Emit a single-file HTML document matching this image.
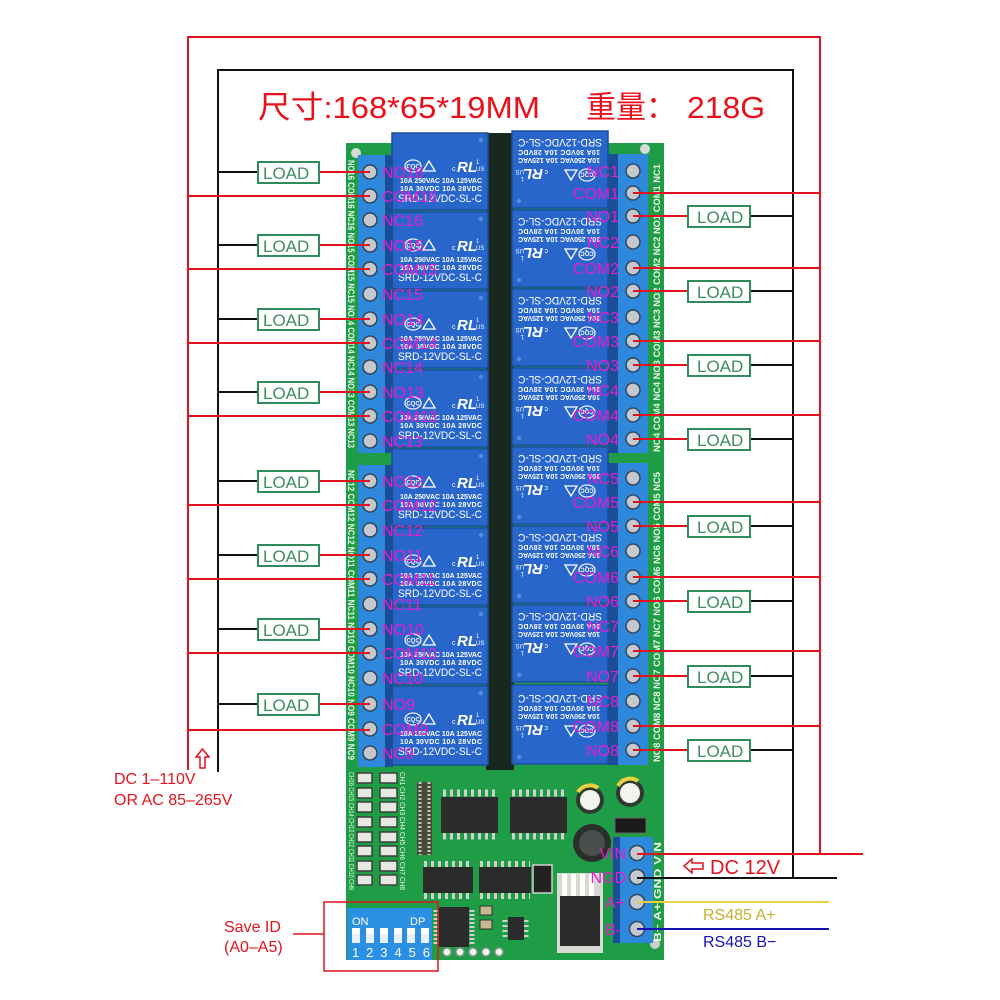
<!DOCTYPE html>
<html><head><meta charset="utf-8">
<style>
html,body{margin:0;padding:0;background:#fff;}
svg{display:block;}
text{font-family:"Liberation Sans","Noto Sans CJK SC",sans-serif;}
.lbl{font-size:16px;fill:#e61ccf;}
.lr{font-size:16px;fill:#e61ccf;text-anchor:end;}
.load{font-size:17px;fill:#3f8c64;}
.rw{fill:#ffffff;}
</style></head><body>
<svg width="1000" height="1000" viewBox="0 0 1000 1000" xmlns="http://www.w3.org/2000/svg">
<rect width="1000" height="1000" fill="#fff"/>

<!-- BOARD -->
<rect x="346" y="143" width="318" height="817" fill="#1f9c46"/>
<rect x="486" y="133" width="28" height="637" fill="#17291f"/>
<circle cx="356" cy="153" r="5" fill="#d5dbd5"/>
<circle cx="645" cy="149" r="5" fill="#d5dbd5"/>
<circle cx="655" cy="944" r="5" fill="#c9d0c9"/>

<!-- vertical pcb texts -->
<text transform="translate(348,160) rotate(90)" font-size="9" font-weight="bold" fill="#eaf6ea" textLength="288" lengthAdjust="spacingAndGlyphs">NO16 COM16 NC16 NO15 COM15 NC15 NO14 COM14 NC14 NO13 COM13 NC13</text>
<text transform="translate(348,470) rotate(90)" font-size="9" font-weight="bold" fill="#eaf6ea" textLength="290" lengthAdjust="spacingAndGlyphs">NO12 COM12 NC12 NO11 COM11 NC11 NO10 COM10 NC10 NO9 COM9 NC9</text>
<text transform="translate(660,452) rotate(-90)" font-size="9" font-weight="bold" fill="#eaf6ea" textLength="288" lengthAdjust="spacingAndGlyphs">NO4 COM4 NC4 NO3 COM3 NC3 NO2 COM2 NC2 NO1 COM1 NC1</text>
<text transform="translate(660,762) rotate(-90)" font-size="9" font-weight="bold" fill="#eaf6ea" textLength="290" lengthAdjust="spacingAndGlyphs">NO8 COM8 NC8 NO7 COM7 NC7 NO6 COM6 NC6 NO5 COM5 NC5</text>
<text transform="translate(661,942) rotate(-90)" font-size="10" font-weight="bold" fill="#eaf6ea" textLength="100" lengthAdjust="spacingAndGlyphs">B−  A+  GND  VIN</text>

<!-- LEFT RELAYS -->
<g transform="translate(392,133)"><rect width="96" height="77" fill="#2866cc" stroke="#1b4f9e" stroke-width="1.5"/><circle cx="89" cy="7" r="2.2" fill="#5a8ad8"/><ellipse cx="21" cy="33" rx="8" ry="6" fill="none" stroke="#eef" stroke-width="1.3"/><text x="21" y="35.5" font-size="6" class="rw" text-anchor="middle" font-weight="bold">CQC</text><path d="M31 38 L37 28 L43 38 Z" fill="none" stroke="#fff" stroke-width="1.3"/><text x="60" y="38" font-size="7" class="rw">c</text><text x="65" y="39" font-size="15" font-weight="bold" font-style="italic" class="rw">RL</text><text x="84" y="31" font-size="6" class="rw">1</text><text x="84" y="38" font-size="6" class="rw">US</text><text x="8" y="50" font-size="7" font-weight="bold" class="rw" textLength="82">10A 250VAC  10A 125VAC</text><text x="8" y="58" font-size="7" font-weight="bold" class="rw" textLength="82">10A  30VDC  10A  28VDC</text><text x="6" y="69" font-size="11" class="rw" textLength="84" lengthAdjust="spacingAndGlyphs">SRD-12VDC-SL-C</text></g>
<g transform="translate(392,212)"><rect width="96" height="77" fill="#2866cc" stroke="#1b4f9e" stroke-width="1.5"/><circle cx="89" cy="7" r="2.2" fill="#5a8ad8"/><ellipse cx="21" cy="33" rx="8" ry="6" fill="none" stroke="#eef" stroke-width="1.3"/><text x="21" y="35.5" font-size="6" class="rw" text-anchor="middle" font-weight="bold">CQC</text><path d="M31 38 L37 28 L43 38 Z" fill="none" stroke="#fff" stroke-width="1.3"/><text x="60" y="38" font-size="7" class="rw">c</text><text x="65" y="39" font-size="15" font-weight="bold" font-style="italic" class="rw">RL</text><text x="84" y="31" font-size="6" class="rw">1</text><text x="84" y="38" font-size="6" class="rw">US</text><text x="8" y="50" font-size="7" font-weight="bold" class="rw" textLength="82">10A 250VAC  10A 125VAC</text><text x="8" y="58" font-size="7" font-weight="bold" class="rw" textLength="82">10A  30VDC  10A  28VDC</text><text x="6" y="69" font-size="11" class="rw" textLength="84" lengthAdjust="spacingAndGlyphs">SRD-12VDC-SL-C</text></g>
<g transform="translate(392,291)"><rect width="96" height="77" fill="#2866cc" stroke="#1b4f9e" stroke-width="1.5"/><circle cx="89" cy="7" r="2.2" fill="#5a8ad8"/><ellipse cx="21" cy="33" rx="8" ry="6" fill="none" stroke="#eef" stroke-width="1.3"/><text x="21" y="35.5" font-size="6" class="rw" text-anchor="middle" font-weight="bold">CQC</text><path d="M31 38 L37 28 L43 38 Z" fill="none" stroke="#fff" stroke-width="1.3"/><text x="60" y="38" font-size="7" class="rw">c</text><text x="65" y="39" font-size="15" font-weight="bold" font-style="italic" class="rw">RL</text><text x="84" y="31" font-size="6" class="rw">1</text><text x="84" y="38" font-size="6" class="rw">US</text><text x="8" y="50" font-size="7" font-weight="bold" class="rw" textLength="82">10A 250VAC  10A 125VAC</text><text x="8" y="58" font-size="7" font-weight="bold" class="rw" textLength="82">10A  30VDC  10A  28VDC</text><text x="6" y="69" font-size="11" class="rw" textLength="84" lengthAdjust="spacingAndGlyphs">SRD-12VDC-SL-C</text></g>
<g transform="translate(392,370)"><rect width="96" height="77" fill="#2866cc" stroke="#1b4f9e" stroke-width="1.5"/><circle cx="89" cy="7" r="2.2" fill="#5a8ad8"/><ellipse cx="21" cy="33" rx="8" ry="6" fill="none" stroke="#eef" stroke-width="1.3"/><text x="21" y="35.5" font-size="6" class="rw" text-anchor="middle" font-weight="bold">CQC</text><path d="M31 38 L37 28 L43 38 Z" fill="none" stroke="#fff" stroke-width="1.3"/><text x="60" y="38" font-size="7" class="rw">c</text><text x="65" y="39" font-size="15" font-weight="bold" font-style="italic" class="rw">RL</text><text x="84" y="31" font-size="6" class="rw">1</text><text x="84" y="38" font-size="6" class="rw">US</text><text x="8" y="50" font-size="7" font-weight="bold" class="rw" textLength="82">10A 250VAC  10A 125VAC</text><text x="8" y="58" font-size="7" font-weight="bold" class="rw" textLength="82">10A  30VDC  10A  28VDC</text><text x="6" y="69" font-size="11" class="rw" textLength="84" lengthAdjust="spacingAndGlyphs">SRD-12VDC-SL-C</text></g>
<g transform="translate(392,449)"><rect width="96" height="77" fill="#2866cc" stroke="#1b4f9e" stroke-width="1.5"/><circle cx="89" cy="7" r="2.2" fill="#5a8ad8"/><ellipse cx="21" cy="33" rx="8" ry="6" fill="none" stroke="#eef" stroke-width="1.3"/><text x="21" y="35.5" font-size="6" class="rw" text-anchor="middle" font-weight="bold">CQC</text><path d="M31 38 L37 28 L43 38 Z" fill="none" stroke="#fff" stroke-width="1.3"/><text x="60" y="38" font-size="7" class="rw">c</text><text x="65" y="39" font-size="15" font-weight="bold" font-style="italic" class="rw">RL</text><text x="84" y="31" font-size="6" class="rw">1</text><text x="84" y="38" font-size="6" class="rw">US</text><text x="8" y="50" font-size="7" font-weight="bold" class="rw" textLength="82">10A 250VAC  10A 125VAC</text><text x="8" y="58" font-size="7" font-weight="bold" class="rw" textLength="82">10A  30VDC  10A  28VDC</text><text x="6" y="69" font-size="11" class="rw" textLength="84" lengthAdjust="spacingAndGlyphs">SRD-12VDC-SL-C</text></g>
<g transform="translate(392,528)"><rect width="96" height="77" fill="#2866cc" stroke="#1b4f9e" stroke-width="1.5"/><circle cx="89" cy="7" r="2.2" fill="#5a8ad8"/><ellipse cx="21" cy="33" rx="8" ry="6" fill="none" stroke="#eef" stroke-width="1.3"/><text x="21" y="35.5" font-size="6" class="rw" text-anchor="middle" font-weight="bold">CQC</text><path d="M31 38 L37 28 L43 38 Z" fill="none" stroke="#fff" stroke-width="1.3"/><text x="60" y="38" font-size="7" class="rw">c</text><text x="65" y="39" font-size="15" font-weight="bold" font-style="italic" class="rw">RL</text><text x="84" y="31" font-size="6" class="rw">1</text><text x="84" y="38" font-size="6" class="rw">US</text><text x="8" y="50" font-size="7" font-weight="bold" class="rw" textLength="82">10A 250VAC  10A 125VAC</text><text x="8" y="58" font-size="7" font-weight="bold" class="rw" textLength="82">10A  30VDC  10A  28VDC</text><text x="6" y="69" font-size="11" class="rw" textLength="84" lengthAdjust="spacingAndGlyphs">SRD-12VDC-SL-C</text></g>
<g transform="translate(392,607)"><rect width="96" height="77" fill="#2866cc" stroke="#1b4f9e" stroke-width="1.5"/><circle cx="89" cy="7" r="2.2" fill="#5a8ad8"/><ellipse cx="21" cy="33" rx="8" ry="6" fill="none" stroke="#eef" stroke-width="1.3"/><text x="21" y="35.5" font-size="6" class="rw" text-anchor="middle" font-weight="bold">CQC</text><path d="M31 38 L37 28 L43 38 Z" fill="none" stroke="#fff" stroke-width="1.3"/><text x="60" y="38" font-size="7" class="rw">c</text><text x="65" y="39" font-size="15" font-weight="bold" font-style="italic" class="rw">RL</text><text x="84" y="31" font-size="6" class="rw">1</text><text x="84" y="38" font-size="6" class="rw">US</text><text x="8" y="50" font-size="7" font-weight="bold" class="rw" textLength="82">10A 250VAC  10A 125VAC</text><text x="8" y="58" font-size="7" font-weight="bold" class="rw" textLength="82">10A  30VDC  10A  28VDC</text><text x="6" y="69" font-size="11" class="rw" textLength="84" lengthAdjust="spacingAndGlyphs">SRD-12VDC-SL-C</text></g>
<g transform="translate(392,686)"><rect width="96" height="79" fill="#2866cc" stroke="#1b4f9e" stroke-width="1.5"/><circle cx="89" cy="7" r="2.2" fill="#5a8ad8"/><ellipse cx="21" cy="33" rx="8" ry="6" fill="none" stroke="#eef" stroke-width="1.3"/><text x="21" y="35.5" font-size="6" class="rw" text-anchor="middle" font-weight="bold">CQC</text><path d="M31 38 L37 28 L43 38 Z" fill="none" stroke="#fff" stroke-width="1.3"/><text x="60" y="38" font-size="7" class="rw">c</text><text x="65" y="39" font-size="15" font-weight="bold" font-style="italic" class="rw">RL</text><text x="84" y="31" font-size="6" class="rw">1</text><text x="84" y="38" font-size="6" class="rw">US</text><text x="8" y="50" font-size="7" font-weight="bold" class="rw" textLength="82">10A 250VAC  10A 125VAC</text><text x="8" y="58" font-size="7" font-weight="bold" class="rw" textLength="82">10A  30VDC  10A  28VDC</text><text x="6" y="69" font-size="11" class="rw" textLength="84" lengthAdjust="spacingAndGlyphs">SRD-12VDC-SL-C</text></g>

<!-- RIGHT RELAYS (rotated 180) -->
<g transform="translate(608,208) rotate(180)"><rect width="96" height="77" fill="#2866cc" stroke="#1b4f9e" stroke-width="1.5"/><circle cx="89" cy="7" r="2.2" fill="#5a8ad8"/><ellipse cx="21" cy="33" rx="8" ry="6" fill="none" stroke="#eef" stroke-width="1.3"/><text x="21" y="35.5" font-size="6" class="rw" text-anchor="middle" font-weight="bold">CQC</text><path d="M31 38 L37 28 L43 38 Z" fill="none" stroke="#fff" stroke-width="1.3"/><text x="60" y="38" font-size="7" class="rw">c</text><text x="65" y="39" font-size="15" font-weight="bold" font-style="italic" class="rw">RL</text><text x="84" y="31" font-size="6" class="rw">1</text><text x="84" y="38" font-size="6" class="rw">US</text><text x="8" y="50" font-size="7" font-weight="bold" class="rw" textLength="82">10A 250VAC  10A 125VAC</text><text x="8" y="58" font-size="7" font-weight="bold" class="rw" textLength="82">10A  30VDC  10A  28VDC</text><text x="6" y="69" font-size="11" class="rw" textLength="84" lengthAdjust="spacingAndGlyphs">SRD-12VDC-SL-C</text></g>
<g transform="translate(608,287) rotate(180)"><rect width="96" height="77" fill="#2866cc" stroke="#1b4f9e" stroke-width="1.5"/><circle cx="89" cy="7" r="2.2" fill="#5a8ad8"/><ellipse cx="21" cy="33" rx="8" ry="6" fill="none" stroke="#eef" stroke-width="1.3"/><text x="21" y="35.5" font-size="6" class="rw" text-anchor="middle" font-weight="bold">CQC</text><path d="M31 38 L37 28 L43 38 Z" fill="none" stroke="#fff" stroke-width="1.3"/><text x="60" y="38" font-size="7" class="rw">c</text><text x="65" y="39" font-size="15" font-weight="bold" font-style="italic" class="rw">RL</text><text x="84" y="31" font-size="6" class="rw">1</text><text x="84" y="38" font-size="6" class="rw">US</text><text x="8" y="50" font-size="7" font-weight="bold" class="rw" textLength="82">10A 250VAC  10A 125VAC</text><text x="8" y="58" font-size="7" font-weight="bold" class="rw" textLength="82">10A  30VDC  10A  28VDC</text><text x="6" y="69" font-size="11" class="rw" textLength="84" lengthAdjust="spacingAndGlyphs">SRD-12VDC-SL-C</text></g>
<g transform="translate(608,366) rotate(180)"><rect width="96" height="77" fill="#2866cc" stroke="#1b4f9e" stroke-width="1.5"/><circle cx="89" cy="7" r="2.2" fill="#5a8ad8"/><ellipse cx="21" cy="33" rx="8" ry="6" fill="none" stroke="#eef" stroke-width="1.3"/><text x="21" y="35.5" font-size="6" class="rw" text-anchor="middle" font-weight="bold">CQC</text><path d="M31 38 L37 28 L43 38 Z" fill="none" stroke="#fff" stroke-width="1.3"/><text x="60" y="38" font-size="7" class="rw">c</text><text x="65" y="39" font-size="15" font-weight="bold" font-style="italic" class="rw">RL</text><text x="84" y="31" font-size="6" class="rw">1</text><text x="84" y="38" font-size="6" class="rw">US</text><text x="8" y="50" font-size="7" font-weight="bold" class="rw" textLength="82">10A 250VAC  10A 125VAC</text><text x="8" y="58" font-size="7" font-weight="bold" class="rw" textLength="82">10A  30VDC  10A  28VDC</text><text x="6" y="69" font-size="11" class="rw" textLength="84" lengthAdjust="spacingAndGlyphs">SRD-12VDC-SL-C</text></g>
<g transform="translate(608,445) rotate(180)"><rect width="96" height="77" fill="#2866cc" stroke="#1b4f9e" stroke-width="1.5"/><circle cx="89" cy="7" r="2.2" fill="#5a8ad8"/><ellipse cx="21" cy="33" rx="8" ry="6" fill="none" stroke="#eef" stroke-width="1.3"/><text x="21" y="35.5" font-size="6" class="rw" text-anchor="middle" font-weight="bold">CQC</text><path d="M31 38 L37 28 L43 38 Z" fill="none" stroke="#fff" stroke-width="1.3"/><text x="60" y="38" font-size="7" class="rw">c</text><text x="65" y="39" font-size="15" font-weight="bold" font-style="italic" class="rw">RL</text><text x="84" y="31" font-size="6" class="rw">1</text><text x="84" y="38" font-size="6" class="rw">US</text><text x="8" y="50" font-size="7" font-weight="bold" class="rw" textLength="82">10A 250VAC  10A 125VAC</text><text x="8" y="58" font-size="7" font-weight="bold" class="rw" textLength="82">10A  30VDC  10A  28VDC</text><text x="6" y="69" font-size="11" class="rw" textLength="84" lengthAdjust="spacingAndGlyphs">SRD-12VDC-SL-C</text></g>
<g transform="translate(608,524) rotate(180)"><rect width="96" height="77" fill="#2866cc" stroke="#1b4f9e" stroke-width="1.5"/><circle cx="89" cy="7" r="2.2" fill="#5a8ad8"/><ellipse cx="21" cy="33" rx="8" ry="6" fill="none" stroke="#eef" stroke-width="1.3"/><text x="21" y="35.5" font-size="6" class="rw" text-anchor="middle" font-weight="bold">CQC</text><path d="M31 38 L37 28 L43 38 Z" fill="none" stroke="#fff" stroke-width="1.3"/><text x="60" y="38" font-size="7" class="rw">c</text><text x="65" y="39" font-size="15" font-weight="bold" font-style="italic" class="rw">RL</text><text x="84" y="31" font-size="6" class="rw">1</text><text x="84" y="38" font-size="6" class="rw">US</text><text x="8" y="50" font-size="7" font-weight="bold" class="rw" textLength="82">10A 250VAC  10A 125VAC</text><text x="8" y="58" font-size="7" font-weight="bold" class="rw" textLength="82">10A  30VDC  10A  28VDC</text><text x="6" y="69" font-size="11" class="rw" textLength="84" lengthAdjust="spacingAndGlyphs">SRD-12VDC-SL-C</text></g>
<g transform="translate(608,603) rotate(180)"><rect width="96" height="77" fill="#2866cc" stroke="#1b4f9e" stroke-width="1.5"/><circle cx="89" cy="7" r="2.2" fill="#5a8ad8"/><ellipse cx="21" cy="33" rx="8" ry="6" fill="none" stroke="#eef" stroke-width="1.3"/><text x="21" y="35.5" font-size="6" class="rw" text-anchor="middle" font-weight="bold">CQC</text><path d="M31 38 L37 28 L43 38 Z" fill="none" stroke="#fff" stroke-width="1.3"/><text x="60" y="38" font-size="7" class="rw">c</text><text x="65" y="39" font-size="15" font-weight="bold" font-style="italic" class="rw">RL</text><text x="84" y="31" font-size="6" class="rw">1</text><text x="84" y="38" font-size="6" class="rw">US</text><text x="8" y="50" font-size="7" font-weight="bold" class="rw" textLength="82">10A 250VAC  10A 125VAC</text><text x="8" y="58" font-size="7" font-weight="bold" class="rw" textLength="82">10A  30VDC  10A  28VDC</text><text x="6" y="69" font-size="11" class="rw" textLength="84" lengthAdjust="spacingAndGlyphs">SRD-12VDC-SL-C</text></g>
<g transform="translate(608,682) rotate(180)"><rect width="96" height="77" fill="#2866cc" stroke="#1b4f9e" stroke-width="1.5"/><circle cx="89" cy="7" r="2.2" fill="#5a8ad8"/><ellipse cx="21" cy="33" rx="8" ry="6" fill="none" stroke="#eef" stroke-width="1.3"/><text x="21" y="35.5" font-size="6" class="rw" text-anchor="middle" font-weight="bold">CQC</text><path d="M31 38 L37 28 L43 38 Z" fill="none" stroke="#fff" stroke-width="1.3"/><text x="60" y="38" font-size="7" class="rw">c</text><text x="65" y="39" font-size="15" font-weight="bold" font-style="italic" class="rw">RL</text><text x="84" y="31" font-size="6" class="rw">1</text><text x="84" y="38" font-size="6" class="rw">US</text><text x="8" y="50" font-size="7" font-weight="bold" class="rw" textLength="82">10A 250VAC  10A 125VAC</text><text x="8" y="58" font-size="7" font-weight="bold" class="rw" textLength="82">10A  30VDC  10A  28VDC</text><text x="6" y="69" font-size="11" class="rw" textLength="84" lengthAdjust="spacingAndGlyphs">SRD-12VDC-SL-C</text></g>
<g transform="translate(608,764) rotate(180)"><rect width="96" height="79" fill="#2866cc" stroke="#1b4f9e" stroke-width="1.5"/><circle cx="89" cy="7" r="2.2" fill="#5a8ad8"/><ellipse cx="21" cy="33" rx="8" ry="6" fill="none" stroke="#eef" stroke-width="1.3"/><text x="21" y="35.5" font-size="6" class="rw" text-anchor="middle" font-weight="bold">CQC</text><path d="M31 38 L37 28 L43 38 Z" fill="none" stroke="#fff" stroke-width="1.3"/><text x="60" y="38" font-size="7" class="rw">c</text><text x="65" y="39" font-size="15" font-weight="bold" font-style="italic" class="rw">RL</text><text x="84" y="31" font-size="6" class="rw">1</text><text x="84" y="38" font-size="6" class="rw">US</text><text x="8" y="50" font-size="7" font-weight="bold" class="rw" textLength="82">10A 250VAC  10A 125VAC</text><text x="8" y="58" font-size="7" font-weight="bold" class="rw" textLength="82">10A  30VDC  10A  28VDC</text><text x="6" y="69" font-size="11" class="rw" textLength="84" lengthAdjust="spacingAndGlyphs">SRD-12VDC-SL-C</text></g>

<!-- TERMINAL BLOCKS -->
<rect x="385" y="155" width="8" height="298" fill="#1a4f98"/>
<rect x="358" y="155" width="27" height="298" fill="#2e88dc"/>
<rect x="385" y="465" width="8" height="302" fill="#1a4f98"/>
<rect x="358" y="465" width="27" height="302" fill="#2e88dc"/>
<rect x="608" y="154" width="10" height="299" fill="#1a4f98"/>
<rect x="618" y="154" width="30" height="299" fill="#2e88dc"/>
<rect x="608" y="463" width="10" height="302" fill="#1a4f98"/>
<rect x="618" y="463" width="30" height="302" fill="#2e88dc"/>

<g fill="#c3c9cf" stroke="#33475c" stroke-width="1.5">
<circle cx="370" cy="172" r="7"/><circle cx="370" cy="196" r="7"/><circle cx="370" cy="220" r="7"/><circle cx="370" cy="245" r="7"/><circle cx="370" cy="269" r="7"/><circle cx="370" cy="294" r="7"/><circle cx="370" cy="319" r="7"/><circle cx="370" cy="343" r="7"/><circle cx="370" cy="367" r="7"/><circle cx="370" cy="392" r="7"/><circle cx="370" cy="416" r="7"/><circle cx="370" cy="441" r="7"/>
<circle cx="370" cy="481" r="7"/><circle cx="370" cy="505" r="7"/><circle cx="370" cy="530" r="7"/><circle cx="370" cy="555" r="7"/><circle cx="370" cy="579" r="7"/><circle cx="370" cy="604" r="7"/><circle cx="370" cy="629" r="7"/><circle cx="370" cy="653" r="7"/><circle cx="370" cy="678" r="7"/><circle cx="370" cy="704" r="7"/><circle cx="370" cy="729" r="7"/><circle cx="370" cy="753" r="7"/>
<circle cx="633" cy="171" r="7"/><circle cx="633" cy="193" r="7"/><circle cx="633" cy="216" r="7"/><circle cx="633" cy="242" r="7"/><circle cx="633" cy="268" r="7"/><circle cx="633" cy="291" r="7"/><circle cx="633" cy="317" r="7"/><circle cx="633" cy="341" r="7"/><circle cx="633" cy="365" r="7"/><circle cx="633" cy="390" r="7"/><circle cx="633" cy="415" r="7"/><circle cx="633" cy="439" r="7"/>
<circle cx="633" cy="478" r="7"/><circle cx="633" cy="502" r="7"/><circle cx="633" cy="526" r="7"/><circle cx="633" cy="551" r="7"/><circle cx="633" cy="577" r="7"/><circle cx="633" cy="601" r="7"/><circle cx="633" cy="626" r="7"/><circle cx="633" cy="651" r="7"/><circle cx="633" cy="676" r="7"/><circle cx="633" cy="701" r="7"/><circle cx="633" cy="726" r="7"/><circle cx="633" cy="750" r="7"/>
</g>

<!-- LOWER BOARD COMPONENTS -->
<g fill="#e6e8e2" stroke="#3a3f3a" stroke-width="1.5">
<rect x="357" y="773" width="15" height="10"/><rect x="380" y="773" width="17" height="10"/>
<rect x="357" y="788" width="15" height="10"/><rect x="380" y="788" width="17" height="10"/>
<rect x="357" y="802" width="15" height="10"/><rect x="380" y="802" width="17" height="10"/>
<rect x="357" y="817" width="15" height="10"/><rect x="380" y="817" width="17" height="10"/>
<rect x="357" y="832" width="15" height="10"/><rect x="380" y="832" width="17" height="10"/>
<rect x="357" y="846" width="15" height="10"/><rect x="380" y="846" width="17" height="10"/>
<rect x="357" y="861" width="15" height="10"/><rect x="380" y="861" width="17" height="10"/>
<rect x="357" y="875" width="15" height="10"/><rect x="380" y="875" width="17" height="10"/>
</g>
<text transform="translate(349,772) rotate(90)" font-size="7" fill="#eaf6ea" textLength="118" lengthAdjust="spacingAndGlyphs">CH16 CH15 CH14 CH13 CH12 CH11 CH10 CH9</text>
<text transform="translate(400,772) rotate(90)" font-size="7" fill="#eaf6ea" textLength="118" lengthAdjust="spacingAndGlyphs">CH1 CH2 CH3 CH4 CH5 CH6 CH7 CH8</text>

<!-- resistor arrays -->
<rect x="417" y="782" width="15" height="73" fill="#4a4a3a"/>
<line x1="420" y1="782" x2="420" y2="855" stroke="#c8c8c0" stroke-width="3" stroke-dasharray="2 2"/>
<line x1="429" y1="782" x2="429" y2="855" stroke="#c8c8c0" stroke-width="3" stroke-dasharray="2 2"/>

<!-- chips -->
<g>
<line x1="443" y1="793" x2="497" y2="793" stroke="#d0d0d0" stroke-width="7" stroke-dasharray="3 4"/>
<line x1="443" y1="836" x2="497" y2="836" stroke="#d0d0d0" stroke-width="7" stroke-dasharray="3 4"/>
<rect x="441" y="797" width="57" height="36" fill="#2b2b2b"/>
<line x1="512" y1="793" x2="566" y2="793" stroke="#d0d0d0" stroke-width="7" stroke-dasharray="3 4"/>
<line x1="512" y1="836" x2="566" y2="836" stroke="#d0d0d0" stroke-width="7" stroke-dasharray="3 4"/>
<rect x="510" y="797" width="57" height="36" fill="#2b2b2b"/>
<line x1="424" y1="864" x2="472" y2="864" stroke="#d0d0d0" stroke-width="6" stroke-dasharray="3 4"/>
<line x1="424" y1="896" x2="472" y2="896" stroke="#d0d0d0" stroke-width="6" stroke-dasharray="3 4"/>
<rect x="423" y="867" width="50" height="26" fill="#2b2b2b"/>
<line x1="480" y1="864" x2="530" y2="864" stroke="#d0d0d0" stroke-width="6" stroke-dasharray="3 4"/>
<line x1="480" y1="896" x2="530" y2="896" stroke="#d0d0d0" stroke-width="6" stroke-dasharray="3 4"/>
<rect x="479" y="867" width="52" height="26" fill="#2b2b2b"/>
<rect x="533" y="865" width="19" height="28" fill="#222" stroke="#d0d0d0" stroke-width="1.5"/>
<line x1="436" y1="910" x2="436" y2="946" stroke="#d0d0d0" stroke-width="5" stroke-dasharray="2 2"/>
<line x1="472" y1="910" x2="472" y2="946" stroke="#d0d0d0" stroke-width="5" stroke-dasharray="2 2"/>
<rect x="439" y="907" width="30" height="40" fill="#2b2b2b"/>
<rect x="480" y="906" width="12" height="9" fill="#c8b890" stroke="#333"/>
<rect x="480" y="920" width="12" height="9" fill="#c8b890" stroke="#333"/>
<line x1="505" y1="920" x2="505" y2="938" stroke="#d0d0d0" stroke-width="5" stroke-dasharray="2 3"/>
<line x1="526" y1="920" x2="526" y2="938" stroke="#d0d0d0" stroke-width="5" stroke-dasharray="2 3"/>
<rect x="508" y="917" width="16" height="23" fill="#2b2b2b"/>
<g fill="#f4f4f0" stroke="#8a9a8a" stroke-width="1.5">
<circle cx="447" cy="952" r="4"/><circle cx="460" cy="952" r="4"/><circle cx="473" cy="952" r="4"/><circle cx="486" cy="952" r="4"/><circle cx="499" cy="952" r="4"/>
</g>
<!-- capacitors & inductor -->
<circle cx="590" cy="800" r="14" fill="#2c3a30"/><circle cx="590" cy="800" r="10" fill="#f4f4ee"/>
<path d="M578 792 A14 14 0 0 1 598 788" fill="none" stroke="#e8d040" stroke-width="4"/>
<circle cx="630" cy="793" r="14" fill="#2c3a30"/><circle cx="630" cy="793" r="10" fill="#f4f4ee"/>
<path d="M618 786 A14 14 0 0 1 638 781" fill="none" stroke="#e8d040" stroke-width="4"/>
<circle cx="592" cy="843" r="19" fill="#2a2f2c"/><circle cx="592" cy="843" r="13" fill="#4a4f4c"/>
<rect x="615" y="818" width="31" height="15" fill="#1a1a1a" stroke="#666"/>
<!-- regulator -->
<rect x="557" y="873" width="46" height="80" fill="#d8dad2"/>
<rect x="562" y="874" width="5" height="22" fill="#fff"/><rect x="571" y="874" width="5" height="22" fill="#fff"/><rect x="580" y="874" width="5" height="22" fill="#fff"/><rect x="589" y="874" width="5" height="22" fill="#fff"/>
<rect x="560" y="896" width="40" height="50" fill="#2b2b2b"/>
</g>

<!-- power terminal -->
<rect x="613" y="837" width="8" height="106" fill="#1a4f98"/>
<rect x="620" y="837" width="33" height="106" fill="#2e88dc"/>
<g fill="#c3c9cf" stroke="#33475c" stroke-width="1.5">
<circle cx="637" cy="853" r="7.5"/><circle cx="637" cy="877" r="7.5"/><circle cx="637" cy="902" r="7.5"/><circle cx="637" cy="929" r="7.5"/>
</g>

<!-- DIP switch -->
<rect x="347" y="908" width="85" height="52" fill="#2b8fe2"/>
<text x="352" y="925" font-size="11" fill="#fff">ON</text>
<text x="410" y="925" font-size="11" fill="#fff">DP</text>
<g fill="#e8f0ff">
<rect x="352" y="928" width="8" height="15"/><rect x="366" y="928" width="8" height="15"/><rect x="380" y="928" width="8" height="15"/><rect x="394" y="928" width="8" height="15"/><rect x="407" y="928" width="8" height="15"/><rect x="421" y="928" width="8" height="15"/>
</g>
<g fill="#ffffff">
<rect x="352" y="928" width="8" height="6"/><rect x="366" y="928" width="8" height="6"/><rect x="380" y="928" width="8" height="6"/><rect x="394" y="928" width="8" height="6"/><rect x="407" y="928" width="8" height="6"/><rect x="421" y="928" width="8" height="6"/>
</g>
<text x="352" y="957" font-size="13" fill="#fff" textLength="78">1 2 3 4 5 6</text>

<!-- FRAME LINES -->
<g stroke-width="2" fill="none">
<polyline points="188,770 188,37 820,37 820,854" stroke="#e0141c"/>
<polyline points="218,772 218,70 793,70 793,878" stroke="#111"/>
</g>

<!-- LEFT WIRES -->
<g stroke="#e0141c" stroke-width="2">
<line x1="188" y1="196" x2="370" y2="196"/><line x1="188" y1="269" x2="370" y2="269"/><line x1="188" y1="343" x2="370" y2="343"/><line x1="188" y1="416" x2="370" y2="416"/>
<line x1="188" y1="505" x2="370" y2="505"/><line x1="188" y1="579" x2="370" y2="579"/><line x1="188" y1="653" x2="370" y2="653"/><line x1="188" y1="730" x2="370" y2="730"/>
<line x1="319" y1="172" x2="370" y2="172"/><line x1="319" y1="245" x2="370" y2="245"/><line x1="319" y1="319" x2="370" y2="319"/><line x1="319" y1="392" x2="370" y2="392"/>
<line x1="319" y1="481" x2="370" y2="481"/><line x1="319" y1="555" x2="370" y2="555"/><line x1="319" y1="629" x2="370" y2="629"/><line x1="319" y1="704" x2="370" y2="704"/>
</g>
<g stroke="#111" stroke-width="2">
<line x1="218" y1="172" x2="258" y2="172"/><line x1="218" y1="245" x2="258" y2="245"/><line x1="218" y1="319" x2="258" y2="319"/><line x1="218" y1="392" x2="258" y2="392"/>
<line x1="218" y1="481" x2="258" y2="481"/><line x1="218" y1="555" x2="258" y2="555"/><line x1="218" y1="629" x2="258" y2="629"/><line x1="218" y1="704" x2="258" y2="704"/>
</g>

<!-- RIGHT WIRES -->
<g stroke="#e0141c" stroke-width="2">
<line x1="633" y1="193" x2="820" y2="193"/><line x1="633" y1="268" x2="820" y2="268"/><line x1="633" y1="341" x2="820" y2="341"/><line x1="633" y1="415" x2="820" y2="415"/>
<line x1="633" y1="502" x2="820" y2="502"/><line x1="633" y1="577" x2="820" y2="577"/><line x1="633" y1="651" x2="820" y2="651"/><line x1="633" y1="726" x2="820" y2="726"/>
<line x1="633" y1="216" x2="688" y2="216"/><line x1="633" y1="291" x2="688" y2="291"/><line x1="633" y1="365" x2="688" y2="365"/><line x1="633" y1="439" x2="688" y2="439"/>
<line x1="633" y1="526" x2="688" y2="526"/><line x1="633" y1="601" x2="688" y2="601"/><line x1="633" y1="676" x2="688" y2="676"/><line x1="633" y1="750" x2="688" y2="750"/>
<line x1="637" y1="854" x2="863" y2="854"/>
</g>
<g stroke="#111" stroke-width="2">
<line x1="750" y1="216" x2="793" y2="216"/><line x1="750" y1="291" x2="793" y2="291"/><line x1="750" y1="365" x2="793" y2="365"/><line x1="750" y1="439" x2="793" y2="439"/>
<line x1="750" y1="526" x2="793" y2="526"/><line x1="750" y1="601" x2="793" y2="601"/><line x1="750" y1="676" x2="793" y2="676"/><line x1="750" y1="750" x2="793" y2="750"/>
<line x1="637" y1="878" x2="837" y2="878"/>
</g>
<line x1="637" y1="902" x2="829" y2="902" stroke="#e8d040" stroke-width="2"/>
<line x1="637" y1="929" x2="829" y2="929" stroke="#1410b4" stroke-width="2"/>

<!-- LOAD BOXES -->
<g fill="#fff" stroke="#2f8a5c" stroke-width="2">
<rect x="258" y="162" width="61" height="21"/><rect x="258" y="235" width="61" height="21"/><rect x="258" y="309" width="61" height="21"/><rect x="258" y="382" width="61" height="21"/>
<rect x="258" y="471" width="61" height="21"/><rect x="258" y="545" width="61" height="21"/><rect x="258" y="619" width="61" height="21"/><rect x="258" y="694" width="61" height="21"/>
<rect x="688" y="206" width="62" height="21"/><rect x="688" y="281" width="62" height="21"/><rect x="688" y="355" width="62" height="21"/><rect x="688" y="429" width="62" height="21"/>
<rect x="688" y="516" width="62" height="21"/><rect x="688" y="591" width="62" height="21"/><rect x="688" y="666" width="62" height="21"/><rect x="688" y="740" width="62" height="21"/>
</g>
<g class="load">
<text x="263" y="179" class="load">LOAD</text><text x="263" y="252" class="load">LOAD</text><text x="263" y="326" class="load">LOAD</text><text x="263" y="399" class="load">LOAD</text>
<text x="263" y="488" class="load">LOAD</text><text x="263" y="562" class="load">LOAD</text><text x="263" y="636" class="load">LOAD</text><text x="263" y="711" class="load">LOAD</text>
<text x="697" y="223" class="load">LOAD</text><text x="697" y="298" class="load">LOAD</text><text x="697" y="372" class="load">LOAD</text><text x="697" y="446" class="load">LOAD</text>
<text x="697" y="533" class="load">LOAD</text><text x="697" y="608" class="load">LOAD</text><text x="697" y="683" class="load">LOAD</text><text x="697" y="757" class="load">LOAD</text>
</g>

<!-- MAGENTA LABELS LEFT -->
<text x="382" y="178" class="lbl">NO16</text><text x="382" y="202" class="lbl">COM16</text><text x="382" y="226" class="lbl">NC16</text>
<text x="382" y="251" class="lbl">NO15</text><text x="382" y="275" class="lbl">COM15</text><text x="382" y="300" class="lbl">NC15</text>
<text x="382" y="325" class="lbl">NO14</text><text x="382" y="349" class="lbl">COM14</text><text x="382" y="373" class="lbl">NC14</text>
<text x="382" y="398" class="lbl">NO13</text><text x="382" y="422" class="lbl">COM13</text><text x="382" y="447" class="lbl">NC13</text>
<text x="382" y="487" class="lbl">NO12</text><text x="382" y="511" class="lbl">COM12</text><text x="382" y="536" class="lbl">NC12</text>
<text x="382" y="561" class="lbl">NO11</text><text x="382" y="585" class="lbl">COM11</text><text x="382" y="610" class="lbl">NC11</text>
<text x="382" y="635" class="lbl">NO10</text><text x="382" y="659" class="lbl">COM10</text><text x="382" y="684" class="lbl">NC10</text>
<text x="382" y="710" class="lbl">NO9</text><text x="382" y="735" class="lbl">COM9</text><text x="382" y="759" class="lbl">NC9</text>

<!-- MAGENTA LABELS RIGHT -->
<text x="619" y="177" class="lr">NC1</text><text x="619" y="199" class="lr">COM1</text><text x="619" y="222" class="lr">NO1</text>
<text x="619" y="248" class="lr">NC2</text><text x="619" y="274" class="lr">COM2</text><text x="619" y="297" class="lr">NO2</text>
<text x="619" y="323" class="lr">NC3</text><text x="619" y="347" class="lr">COM3</text><text x="619" y="371" class="lr">NO3</text>
<text x="619" y="396" class="lr">NC4</text><text x="619" y="421" class="lr">COM4</text><text x="619" y="445" class="lr">NO4</text>
<text x="619" y="484" class="lr">NC5</text><text x="619" y="508" class="lr">COM5</text><text x="619" y="532" class="lr">NO5</text>
<text x="619" y="557" class="lr">NC6</text><text x="619" y="583" class="lr">COM6</text><text x="619" y="607" class="lr">NO6</text>
<text x="619" y="632" class="lr">NC7</text><text x="619" y="657" class="lr">COM7</text><text x="619" y="682" class="lr">NO7</text>
<text x="619" y="707" class="lr">NC8</text><text x="619" y="732" class="lr">COM8</text><text x="619" y="756" class="lr">NO8</text>
<text x="626" y="859" class="lr">VIN</text><text x="626" y="883" class="lr">NGD</text><text x="625" y="908" class="lr">A+</text><text x="621" y="935" class="lr">B-</text>

<!-- TITLE -->
<text x="258" y="118" font-size="31" fill="#e8101a" textLength="282" lengthAdjust="spacingAndGlyphs">尺寸:168*65*19MM</text>
<text x="586" y="118" font-size="31" fill="#e8101a" textLength="90" lengthAdjust="spacingAndGlyphs">重量：</text>
<text x="687" y="118" font-size="31" fill="#e8101a" textLength="78" lengthAdjust="spacingAndGlyphs">218G</text>

<!-- ANNOTATIONS -->
<path d="M202.5 749 L196 757 L200 757 L200 768 L205 768 L205 757 L209 757 Z" fill="#fff" stroke="#e0141c" stroke-width="1.5"/>
<text x="114" y="784" font-size="16" fill="#e0141c">DC 1–110V</text>
<text x="114" y="805" font-size="16" fill="#e0141c">OR AC 85–265V</text>

<path d="M684 866 L692 859 L692 863 L703 863 L703 869 L692 869 L692 873 Z" fill="#fff" stroke="#e0141c" stroke-width="1.5"/>
<text x="710" y="874" font-size="20" fill="#e0141c">DC 12V</text>
<text x="703" y="920" font-size="16" fill="#c4b030">RS485 A+</text>
<text x="703" y="947" font-size="16" fill="#1a14b0">RS485 B−</text>

<text x="224" y="932" font-size="16" fill="#e0141c">Save ID</text>
<text x="224" y="952" font-size="16" fill="#e0141c">(A0–A5)</text>
<line x1="293" y1="934" x2="324" y2="934" stroke="#e0141c" stroke-width="1.5"/>
<rect x="324" y="902" width="114" height="69" fill="none" stroke="#e0141c" stroke-width="1.5"/>
</svg>
</body></html>
